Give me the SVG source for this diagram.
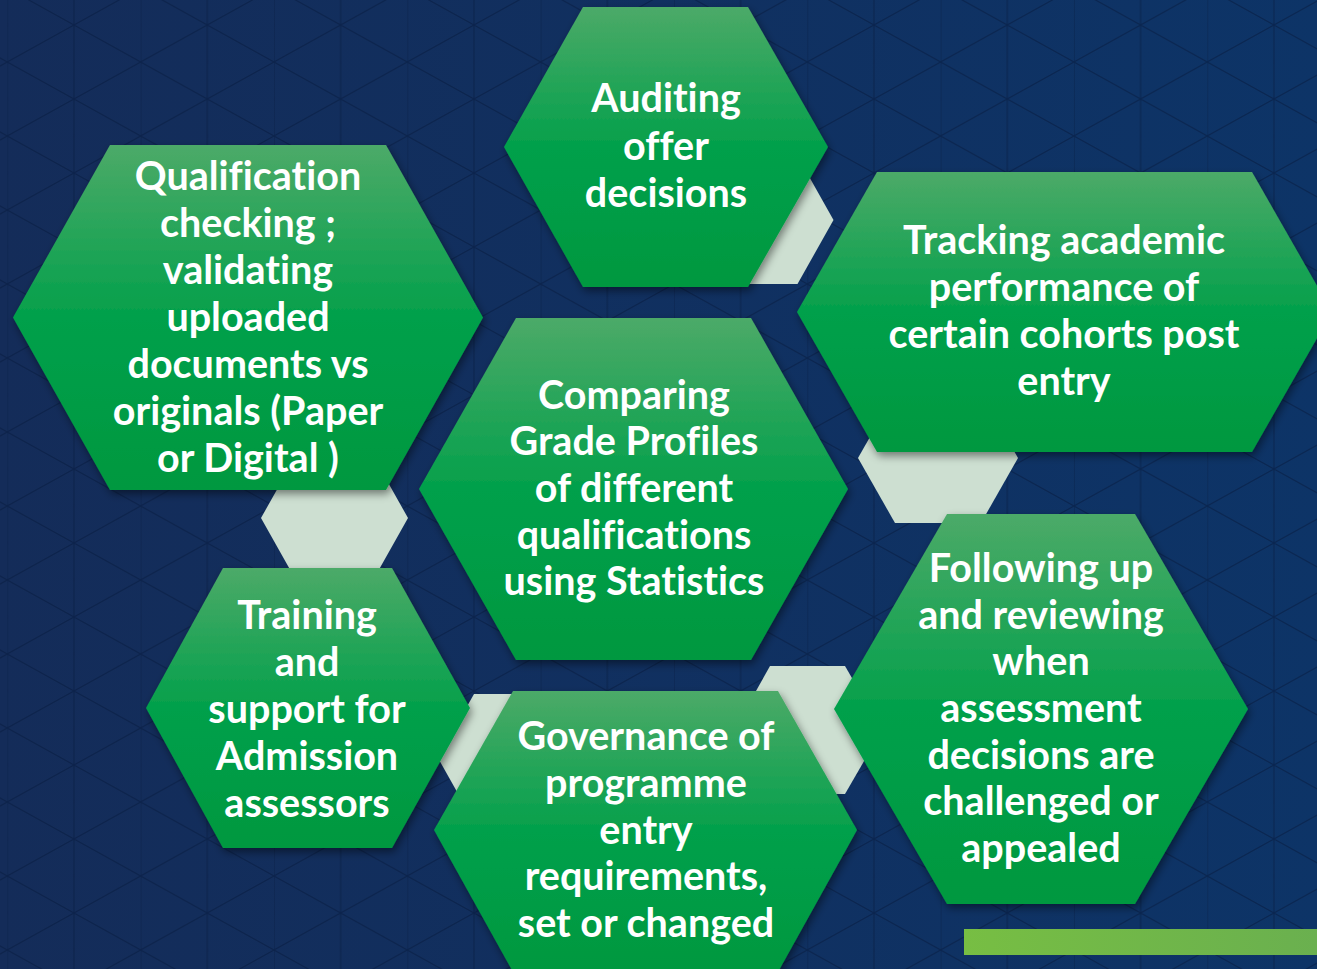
<svg xmlns="http://www.w3.org/2000/svg" width="1317" height="969" viewBox="0 0 1317 969">
<defs>
<linearGradient id="bg" x1="0" y1="0" x2="1" y2="0">
<stop offset="0" stop-color="#142c59"/>
<stop offset="1" stop-color="#0d3467"/>
</linearGradient>
<pattern id="grid" patternUnits="userSpaceOnUse" x="7.3" y="-12" width="133.33" height="74">
<path d="M0,0 V74 M66.67,0 V74 M0,0 L133.33,74 M0,74 L133.33,0" fill="none" stroke="#081c40" stroke-opacity="0.55" stroke-width="1.2"/>
</pattern>
<linearGradient id="green" x1="0" y1="0" x2="0" y2="1">
<stop offset="0" stop-color="#4caa68"/>
<stop offset="0.5" stop-color="#03a04b"/>
<stop offset="1" stop-color="#00983f"/>
</linearGradient>
<linearGradient id="bar" x1="0" y1="0" x2="1" y2="0">
<stop offset="0" stop-color="#77be43"/>
<stop offset="1" stop-color="#6ab04f"/>
</linearGradient>
<filter id="shadow" x="-10%" y="-10%" width="120%" height="125%">
<feDropShadow dx="2" dy="4" stdDeviation="4" flood-color="#000" flood-opacity="0.45"/>
</filter>
<style>
.hex{fill:url(#green);filter:url(#shadow);}
.light{fill:#cddfd1;}
.t{font-family:Lato,"Liberation Sans",sans-serif;font-weight:bold;font-size:39.5px;fill:#ffffff;text-anchor:middle;font-variant-ligatures:none;}
</style>
</defs>
<rect x="0" y="0" width="1317" height="969" fill="url(#bg)"/>
<rect x="0" y="0" width="1317" height="969" fill="url(#grid)"/>
<rect x="964" y="929" width="353" height="26" fill="url(#bar)"/>
<g id="connectors">
<polygon class="light" points="686.5,220 722.5,156 797.5,156 833.5,220 797.5,284 722.5,284"/>
<polygon class="light" points="261,518 297,454 372,454 408,518 372,582 297,582"/>
<polygon class="light" points="858,458 895,393 981,393 1018,458 981,523 895,523"/>
<polygon class="light" points="734,730 770,666 845,666 882,730 845,794 770,794"/>
<polygon class="light" points="438,758 474,694 549,694 586,758 549,822 474,822"/>
</g>
<g id="node-qualification">
<polygon class="hex" points="13,317.5 110,145 386,145 483,317.5 386,490 110,490"/>
<text class="t" x="248" y="190">Qualification</text>
<text class="t" x="248" y="237">checking ;</text>
<text class="t" x="248" y="284">validating</text>
<text class="t" x="248" y="331">uploaded</text>
<text class="t" x="248" y="378">documents vs</text>
<text class="t" x="248" y="425">originals (Paper</text>
<text class="t" x="248" y="472">or Digital )</text>
</g>
<g id="node-auditing">
<polygon class="hex" points="504,147 583,7 748,7 828,147 748,287 583,287"/>
<text class="t" x="666" y="112">Auditing</text>
<text class="t" x="666" y="160">offer</text>
<text class="t" x="666" y="207">decisions</text>
</g>
<g id="node-tracking">
<polygon class="hex" points="797,312 877,172 1252,172 1332,312 1252,452 877,452"/>
<text class="t" x="1064" y="254">Tracking academic</text>
<text class="t" x="1064" y="301">performance of</text>
<text class="t" x="1064" y="348">certain cohorts post</text>
<text class="t" x="1064" y="395">entry</text>
</g>
<g id="node-comparing">
<polygon class="hex" points="419,489 516,318 751,318 848,489 751,660 516,660"/>
<text class="t" x="634" y="409">Comparing</text>
<text class="t" x="634" y="455">Grade Profiles</text>
<text class="t" x="634" y="502">of different</text>
<text class="t" x="634" y="549">qualifications</text>
<text class="t" x="634" y="595">using Statistics</text>
</g>
<g id="node-following">
<polygon class="hex" points="834,709 947,514 1135,514 1248,709 1135,904 947,904"/>
<text class="t" x="1041" y="582">Following up</text>
<text class="t" x="1041" y="629">and reviewing</text>
<text class="t" x="1041" y="675">when</text>
<text class="t" x="1041" y="722">assessment</text>
<text class="t" x="1041" y="769">decisions are</text>
<text class="t" x="1041" y="815">challenged or</text>
<text class="t" x="1041" y="862">appealed</text>
</g>
<g id="node-training">
<polygon class="hex" points="146,708 223,568 392,568 470,708 392,848 223,848"/>
<text class="t" x="307" y="629">Training</text>
<text class="t" x="307" y="676">and</text>
<text class="t" x="307" y="723">support for</text>
<text class="t" x="307" y="770">Admission</text>
<text class="t" x="307" y="817">assessors</text>
</g>
<g id="node-governance">
<polygon class="hex" points="434,830 513,691 778,691 857,830 778,972 513,972"/>
<text class="t" x="646" y="750">Governance of</text>
<text class="t" x="646" y="797">programme</text>
<text class="t" x="646" y="844">entry</text>
<text class="t" x="646" y="890">requirements,</text>
<text class="t" x="646" y="937">set or changed</text>
</g>
</svg>
